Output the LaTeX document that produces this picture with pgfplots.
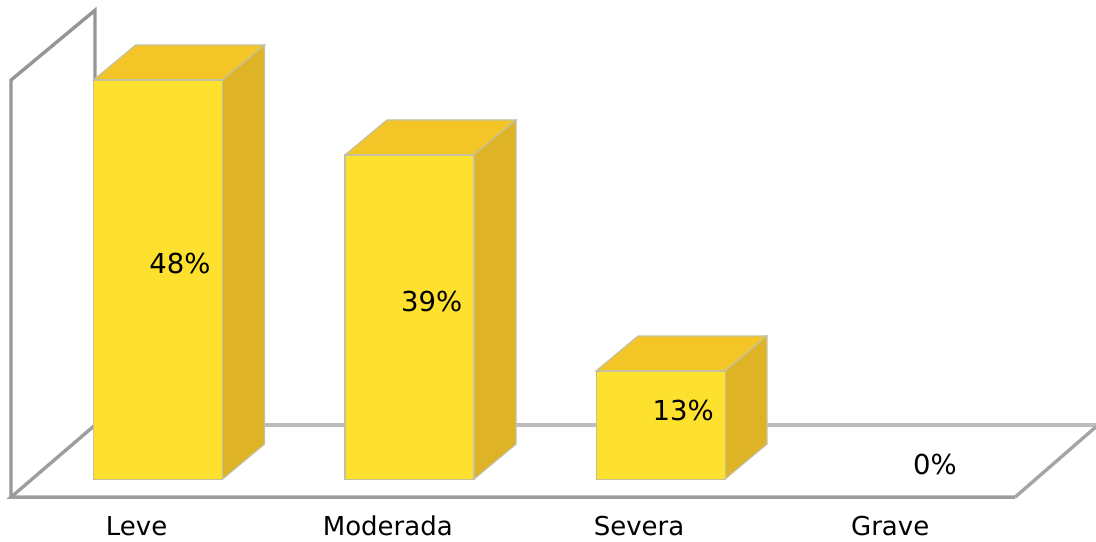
\documentclass[border=0pt]{standalone}
\usepackage{pgfplots}
\usepackage{fontspec}
\setmainfont{DejaVu Sans}
\pgfplotsset{compat=1.18}
\definecolor{barfront}{RGB}{254,225,46}
\definecolor{bartop}{RGB}{243,197,38}
\definecolor{barside}{RGB}{222,180,38}
\definecolor{baredge}{RGB}{196,192,160}
\definecolor{walldark}{RGB}{150,150,150}
\definecolor{floorlight}{RGB}{188,188,188}

\begin{document}
\begin{tikzpicture}
\begin{axis}[
    scale only axis,
    width=1096pt,
    height=541pt,
    xmin=-0.5438, xmax=3.8193,
    ymin=-7.459, ymax=57.624,
    axis line style={draw=none},
    major tick length=0pt,
    ytick=\empty,
    xtick={0,1,2,3},
    xticklabels={Leve,Moderada,Severa,Grave},
    xticklabel style={font=\fontsize{26}{30}\selectfont,anchor=base,yshift=6pt,text=black,inner sep=0pt},
]
% floor and side wall
\addplot[floorlight,line width=3.6pt] coordinates {(-0.1736,6.5) (3.8193,6.5)};
\addplot[walldark!80!floorlight,line width=3.4pt,line join=miter] coordinates {
    (-0.1656,6.5) (-0.5,-2.17) (3.497,-2.17)
};
\addplot[walldark!60!floorlight,line width=3.4pt] coordinates {(3.497,-2.17) (3.8193,6.3)};
\addplot[walldark,line width=3.4pt,line join=miter] coordinates {
    (-0.5,-2.17) (-0.5,48) (-0.1656,56.4) (-0.1656,6.5)
};

% Leve
\addplot[fill=bartop,draw=baredge,line width=1.2pt] coordinates {
    (-0.1716,48) (0.3420,48) (0.5092,52.21) (-0.0044,52.21)
} --cycle;
\addplot[fill=barside,draw=baredge,line width=1.2pt] coordinates {
    (0.3420,0) (0.5092,4.21) (0.5092,52.21) (0.3420,48)
} --cycle;
% Moderada
\addplot[fill=bartop,draw=baredge,line width=1.2pt] coordinates {
    (0.8296,39) (1.3432,39) (1.5104,43.21) (0.9968,43.21)
} --cycle;
\addplot[fill=barside,draw=baredge,line width=1.2pt] coordinates {
    (1.3432,0) (1.5104,4.21) (1.5104,43.21) (1.3432,39)
} --cycle;
% Severa
\addplot[fill=bartop,draw=baredge,line width=1.2pt] coordinates {
    (1.8288,13) (2.3420,13) (2.5092,17.21) (1.9960,17.21)
} --cycle;
\addplot[fill=barside,draw=baredge,line width=1.2pt] coordinates {
    (2.3420,0) (2.5092,4.21) (2.5092,17.21) (2.3420,13)
} --cycle;

% front faces
\addplot[ybar,bar width=129pt,bar shift=0pt,fill=barfront,draw=baredge,line width=1.2pt] coordinates {
    (0.0852,48) (1.0864,39) (2.0864,13)
};

% value labels
\addplot[draw=none,mark=none,
    point meta=explicit symbolic,
    nodes near coords,
    every node near coord/.style={anchor=center,font=\fontsize{27.5}{31}\selectfont,text=black,inner sep=0pt},
] table[meta=label] {
x y label
0.173 25.9 48\%
1.175 21.4 39\%
2.176 8.3 13\%
3.178 1.8 0\%
};
\end{axis}
\end{tikzpicture}
\end{document}
